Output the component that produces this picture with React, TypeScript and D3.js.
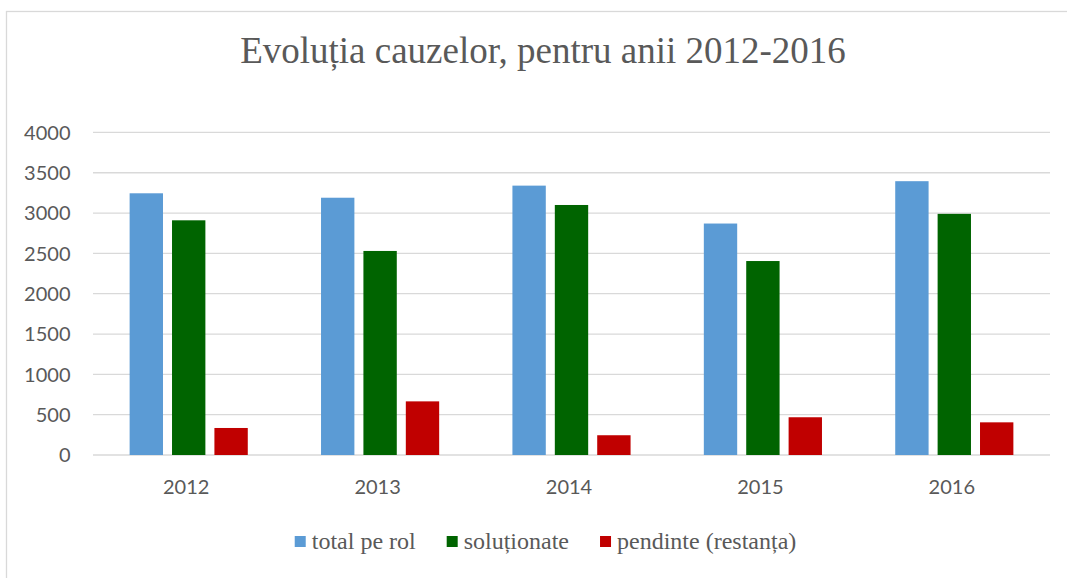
import React, { useEffect, useRef } from "react";
import * as d3 from "d3";

const years = ["2012", "2013", "2014", "2015", "2016"];
const totalPeRol = [3245, 3190, 3340, 2870, 3395];
const solutionate = [2910, 2530, 3100, 2405, 2990];
const pendinte = [335, 665, 245, 468, 405];
const seriesNames = ["total pe rol", "soluționate", "pendinte (restanța)"];
const seriesColors = ["#5B9BD5", "#006400", "#C00000"];
const yTicks = [0, 500, 1000, 1500, 2000, 2500, 3000, 3500, 4000];
const title = "Evoluția cauzelor, pentru anii 2012-2016";

export default function App() {
  const ref = useRef<SVGSVGElement | null>(null);

  useEffect(() => {
    document.body.style.margin = "0";
    const svg = d3.select(ref.current);
    svg.selectAll("*").remove();
    const W = 1067, H = 578;
    const left = 93, right = 1050, top = 132.4, bottom = 455;
    const series = [totalPeRol, solutionate, pendinte];

    svg.append("rect").attr("x", 0).attr("y", 0).attr("width", W).attr("height", H).attr("fill", "#fff");
    svg.append("rect").attr("x", 6.5).attr("y", 11.5).attr("width", 1100).attr("height", 600)
      .attr("fill", "#fff").attr("stroke", "#D9D9D9").attr("stroke-width", 1.3);

    svg.append("text").attr("x", 543).attr("y", 63).attr("text-anchor", "middle")
      .attr("font-family", "'Liberation Serif', 'Times New Roman', serif").attr("font-size", 37)
      .attr("fill", "#595959").text(title);

    const y = d3.scaleLinear().domain([0, 4000]).range([bottom, top]);
    const x0 = d3.scaleBand<string>().domain(years).range([left, right]).paddingInner(0).paddingOuter(0);
    const x1 = d3.scaleBand<number>().domain([0, 1, 2]).range([0, x0.bandwidth()])
      .paddingInner(0.213).paddingOuter(0.864);

    const grid = svg.append("g");
    yTicks.forEach((t) => {
      grid.append("line").attr("x1", left).attr("x2", right).attr("y1", y(t)).attr("y2", y(t))
        .attr("stroke", "#D9D9D9").attr("stroke-width", 1.3);
      svg.append("text").attr("x", 70.5).attr("y", y(t)).attr("dy", "0.36em").attr("text-anchor", "end")
        .attr("font-family", "Lato, 'Open Sans', sans-serif").attr("font-size", 20).attr("fill", "#595959")
        .text(String(t));
    });

    const bars = svg.append("g");
    years.forEach((yr, i) => {
      series.forEach((s, k) => {
        const v = s[i];
        bars.append("rect")
          .attr("x", (x0(yr) as number) + (x1(k) as number))
          .attr("y", y(v))
          .attr("width", x1.bandwidth())
          .attr("height", y(0) - y(v))
          .attr("fill", seriesColors[k]);
      });
      svg.append("text").attr("x", (x0(yr) as number) + x0.bandwidth() / 2 - 2.5).attr("y", 493.5)
        .attr("text-anchor", "middle")
        .attr("font-family", "Lato, 'Open Sans', sans-serif").attr("font-size", 20).attr("fill", "#595959")
        .text(yr);
    });

    // legend
    const lg = svg.append("g");
    const sq = 11, gapText = 6, gapItem = 31;
    const items: { g: any; w: number }[] = [];
    seriesNames.forEach((n, k) => {
      const g = lg.append("g");
      g.append("rect").attr("x", 0).attr("y", 536).attr("width", sq).attr("height", sq).attr("fill", seriesColors[k]);
      const t = g.append("text").attr("x", sq + gapText).attr("y", 549)
        .attr("font-family", "'Liberation Serif', 'Times New Roman', serif").attr("font-size", 24)
        .attr("fill", "#595959").text(n);
      const tw = (t.node() as SVGTextElement).getComputedTextLength();
      items.push({ g, w: sq + gapText + tw });
    });
    const total = items.reduce((a, b) => a + b.w, 0) + gapItem * (items.length - 1);
    let cx = 545.5 - total / 2;
    items.forEach((it) => {
      it.g.attr("transform", `translate(${cx},0)`);
      cx += it.w + gapItem;
    });
  }, []);

  return <svg ref={ref} width={1067} height={578} style={{ display: "block" }} />;
}
